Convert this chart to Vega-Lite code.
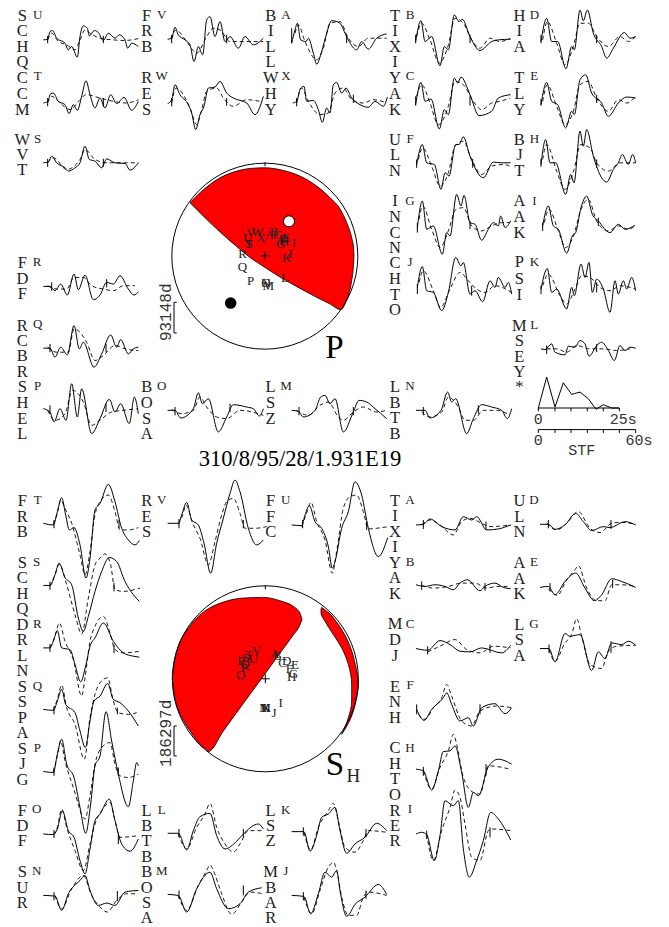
{"$schema":"https://vega.github.io/schema/vega-lite/v6.json","width":669,"height":927,"autosize":{"type":"fit","contains":"padding"},"padding":0,"background":"white","config":{"view":{"stroke":null}},
"datasets":{
"sol":[
{"s":"pU","x":130,"y":120},{"s":"pU","x":143,"y":118},{"s":"pU","x":150,"y":95},{"s":"pU","x":158,"y":92},{"s":"pU","x":170,"y":115},{"s":"pU","x":195,"y":130},{"s":"pU","x":205,"y":150},{"s":"pU","x":215,"y":140},{"s":"pU","x":232,"y":172},{"s":"pU","x":240,"y":110},{"s":"pU","x":250,"y":78},{"s":"pU","x":262,"y":85},{"s":"pU","x":268,"y":108},{"s":"pU","x":283,"y":92},{"s":"pU","x":295,"y":98},{"s":"pU","x":310,"y":122},{"s":"pU","x":325,"y":100},{"s":"pU","x":345,"y":115},{"s":"pU","x":358,"y":105},{"s":"pU","x":375,"y":120},{"s":"pU","x":383,"y":145},{"s":"pU","x":395,"y":130},{"s":"pU","x":415,"y":140},
{"s":"pV","x":503,"y":118},{"s":"pV","x":515,"y":115},{"s":"pV","x":525,"y":82},{"s":"pV","x":535,"y":105},{"s":"pV","x":555,"y":120},{"s":"pV","x":570,"y":135},{"s":"pV","x":582,"y":185},{"s":"pV","x":595,"y":140},{"s":"pV","x":608,"y":165},{"s":"pV","x":620,"y":60},{"s":"pV","x":630,"y":50},{"s":"pV","x":645,"y":110},{"s":"pV","x":660,"y":65},{"s":"pV","x":675,"y":125},{"s":"pV","x":690,"y":110},{"s":"pV","x":715,"y":145},{"s":"pV","x":735,"y":110},{"s":"pV","x":760,"y":135},{"s":"pV","x":790,"y":115},
{"s":"pT","x":130,"y":310},{"s":"pT","x":143,"y":305},{"s":"pT","x":152,"y":282},{"s":"pT","x":160,"y":280},{"s":"pT","x":175,"y":305},{"s":"pT","x":195,"y":315},{"s":"pT","x":207,"y":342},{"s":"pT","x":220,"y":315},{"s":"pT","x":232,"y":332},{"s":"pT","x":245,"y":290},{"s":"pT","x":258,"y":243},{"s":"pT","x":270,"y":285},{"s":"pT","x":285,"y":325},{"s":"pT","x":300,"y":295},{"s":"pT","x":315,"y":325},{"s":"pT","x":332,"y":285},{"s":"pT","x":350,"y":312},{"s":"pT","x":372,"y":293},{"s":"pT","x":395,"y":332},{"s":"pT","x":415,"y":305},
{"s":"pW","x":503,"y":312},{"s":"pW","x":515,"y":300},{"s":"pW","x":525,"y":255},{"s":"pW","x":540,"y":285},{"s":"pW","x":565,"y":315},{"s":"pW","x":575,"y":340},{"s":"pW","x":587,"y":390},{"s":"pW","x":600,"y":345},{"s":"pW","x":612,"y":320},{"s":"pW","x":625,"y":265},{"s":"pW","x":645,"y":262},{"s":"pW","x":660,"y":245},{"s":"pW","x":680,"y":280},{"s":"pW","x":700,"y":295},{"s":"pW","x":740,"y":310},{"s":"pW","x":765,"y":345},{"s":"pW","x":790,"y":290},
{"s":"pS","x":130,"y":490},{"s":"pS","x":145,"y":487},{"s":"pS","x":155,"y":470},{"s":"pS","x":170,"y":490},{"s":"pS","x":195,"y":505},{"s":"pS","x":205,"y":515},{"s":"pS","x":225,"y":505},{"s":"pS","x":240,"y":490},{"s":"pS","x":255,"y":440},{"s":"pS","x":268,"y":480},{"s":"pS","x":285,"y":485},{"s":"pS","x":305,"y":505},{"s":"pS","x":320,"y":478},{"s":"pS","x":345,"y":490},{"s":"pS","x":375,"y":492},{"s":"pS","x":390,"y":512},{"s":"pS","x":415,"y":490},
{"s":"pA","x":875,"y":130},{"s":"pA","x":885,"y":90},{"s":"pA","x":892,"y":70},{"s":"pA","x":902,"y":120},{"s":"pA","x":918,"y":125},{"s":"pA","x":925,"y":115},{"s":"pA","x":940,"y":160},{"s":"pA","x":950,"y":193},{"s":"pA","x":965,"y":155},{"s":"pA","x":980,"y":100},{"s":"pA","x":995,"y":62},{"s":"pA","x":1020,"y":70},{"s":"pA","x":1035,"y":100},{"s":"pA","x":1045,"y":120},{"s":"pA","x":1070,"y":150},{"s":"pA","x":1085,"y":125},{"s":"pA","x":1105,"y":148},{"s":"pA","x":1130,"y":115},{"s":"pA","x":1160,"y":102},
{"s":"pX","x":878,"y":310},{"s":"pX","x":890,"y":305},{"s":"pX","x":902,"y":265},{"s":"pX","x":912,"y":260},{"s":"pX","x":920,"y":305},{"s":"pX","x":940,"y":302},{"s":"pX","x":955,"y":330},{"s":"pX","x":967,"y":368},{"s":"pX","x":980,"y":325},{"s":"pX","x":990,"y":340},{"s":"pX","x":1000,"y":255},{"s":"pX","x":1010,"y":248},{"s":"pX","x":1025,"y":280},{"s":"pX","x":1038,"y":265},{"s":"pX","x":1055,"y":295},{"s":"pX","x":1080,"y":315},{"s":"pX","x":1105,"y":323},{"s":"pX","x":1125,"y":305},{"s":"pX","x":1150,"y":320},{"s":"pX","x":1162,"y":292},
{"s":"pB","x":1247,"y":125},{"s":"pB","x":1263,"y":62},{"s":"pB","x":1275,"y":125},{"s":"pB","x":1295,"y":110},{"s":"pB","x":1320,"y":198},{"s":"pB","x":1333,"y":140},{"s":"pB","x":1345,"y":150},{"s":"pB","x":1363,"y":45},{"s":"pB","x":1377,"y":65},{"s":"pB","x":1387,"y":58},{"s":"pB","x":1410,"y":110},{"s":"pB","x":1440,"y":152},{"s":"pB","x":1475,"y":125},{"s":"pB","x":1495,"y":120},{"s":"pB","x":1532,"y":118},
{"s":"pD","x":1623,"y":125},{"s":"pD","x":1640,"y":55},{"s":"pD","x":1655,"y":125},{"s":"pD","x":1673,"y":125},{"s":"pD","x":1698,"y":207},{"s":"pD","x":1715,"y":140},{"s":"pD","x":1723,"y":150},{"s":"pD","x":1740,"y":30},{"s":"pD","x":1750,"y":62},{"s":"pD","x":1762,"y":30},{"s":"pD","x":1780,"y":100},{"s":"pD","x":1805,"y":140},{"s":"pD","x":1820,"y":175},{"s":"pD","x":1840,"y":145},{"s":"pD","x":1873,"y":98},{"s":"pD","x":1890,"y":115},{"s":"pD","x":1907,"y":110},
{"s":"pC","x":1247,"y":315},{"s":"pC","x":1263,"y":248},{"s":"pC","x":1275,"y":305},{"s":"pC","x":1293,"y":298},{"s":"pC","x":1318,"y":388},{"s":"pC","x":1333,"y":330},{"s":"pC","x":1345,"y":345},{"s":"pC","x":1363,"y":235},{"s":"pC","x":1373,"y":250},{"s":"pC","x":1383,"y":232},{"s":"pC","x":1410,"y":285},{"s":"pC","x":1437,"y":348},{"s":"pC","x":1475,"y":335},{"s":"pC","x":1495,"y":295},{"s":"pC","x":1532,"y":285},
{"s":"pE","x":1623,"y":315},{"s":"pE","x":1640,"y":248},{"s":"pE","x":1655,"y":305},{"s":"pE","x":1673,"y":315},{"s":"pE","x":1697,"y":385},{"s":"pE","x":1715,"y":335},{"s":"pE","x":1723,"y":345},{"s":"pE","x":1740,"y":240},{"s":"pE","x":1757,"y":225},{"s":"pE","x":1775,"y":280},{"s":"pE","x":1805,"y":310},{"s":"pE","x":1825,"y":350},{"s":"pE","x":1855,"y":310},{"s":"pE","x":1880,"y":292},{"s":"pE","x":1907,"y":295},
{"s":"pF","x":1250,"y":495},{"s":"pF","x":1267,"y":435},{"s":"pF","x":1280,"y":490},{"s":"pF","x":1303,"y":495},{"s":"pF","x":1323,"y":570},{"s":"pF","x":1335,"y":520},{"s":"pF","x":1347,"y":530},{"s":"pF","x":1367,"y":435},{"s":"pF","x":1377,"y":435},{"s":"pF","x":1390,"y":412},{"s":"pF","x":1410,"y":470},{"s":"pF","x":1450,"y":535},{"s":"pF","x":1480,"y":488},{"s":"pF","x":1505,"y":490},{"s":"pF","x":1532,"y":490},
{"s":"pH","x":1623,"y":495},{"s":"pH","x":1637,"y":420},{"s":"pH","x":1650,"y":490},{"s":"pH","x":1667,"y":490},{"s":"pH","x":1697,"y":585},{"s":"pH","x":1712,"y":525},{"s":"pH","x":1722,"y":550},{"s":"pH","x":1740,"y":395},{"s":"pH","x":1750,"y":440},{"s":"pH","x":1760,"y":390},{"s":"pH","x":1780,"y":470},{"s":"pH","x":1805,"y":535},{"s":"pH","x":1820,"y":548},{"s":"pH","x":1840,"y":510},{"s":"pH","x":1855,"y":490},{"s":"pH","x":1867,"y":465},{"s":"pH","x":1885,"y":495},{"s":"pH","x":1898,"y":465},{"s":"pH","x":1907,"y":490},
{"s":"pG","x":1252,"y":685},{"s":"pG","x":1267,"y":605},{"s":"pG","x":1280,"y":690},{"s":"pG","x":1300,"y":680},{"s":"pG","x":1327,"y":765},{"s":"pG","x":1340,"y":700},{"s":"pG","x":1350,"y":710},{"s":"pG","x":1370,"y":585},{"s":"pG","x":1383,"y":620},{"s":"pG","x":1392,"y":588},{"s":"pG","x":1410,"y":670},{"s":"pG","x":1425,"y":675},{"s":"pG","x":1445,"y":723},{"s":"pG","x":1465,"y":690},{"s":"pG","x":1480,"y":670},{"s":"pG","x":1495,"y":680},{"s":"pG","x":1502,"y":650},{"s":"pG","x":1515,"y":685},{"s":"pG","x":1532,"y":665},
{"s":"pI","x":1628,"y":680},{"s":"pI","x":1645,"y":620},{"s":"pI","x":1660,"y":680},{"s":"pI","x":1675,"y":690},{"s":"pI","x":1700,"y":762},{"s":"pI","x":1717,"y":710},{"s":"pI","x":1727,"y":700},{"s":"pI","x":1743,"y":625},{"s":"pI","x":1760,"y":590},{"s":"pI","x":1777,"y":645},{"s":"pI","x":1795,"y":665},{"s":"pI","x":1830,"y":700},{"s":"pI","x":1855,"y":675},{"s":"pI","x":1875,"y":690},{"s":"pI","x":1905,"y":678},
{"s":"pJ","x":1252,"y":865},{"s":"pJ","x":1267,"y":802},{"s":"pJ","x":1280,"y":875},{"s":"pJ","x":1300,"y":880},{"s":"pJ","x":1325,"y":935},{"s":"pJ","x":1345,"y":880},{"s":"pJ","x":1367,"y":775},{"s":"pJ","x":1383,"y":800},{"s":"pJ","x":1390,"y":790},{"s":"pJ","x":1410,"y":885},{"s":"pJ","x":1425,"y":875},{"s":"pJ","x":1448,"y":908},{"s":"pJ","x":1470,"y":845},{"s":"pJ","x":1485,"y":865},{"s":"pJ","x":1495,"y":835},{"s":"pJ","x":1515,"y":865},{"s":"pJ","x":1525,"y":850},{"s":"pJ","x":1535,"y":885},
{"s":"pK","x":1623,"y":870},{"s":"pK","x":1642,"y":808},{"s":"pK","x":1655,"y":880},{"s":"pK","x":1670,"y":870},{"s":"pK","x":1700,"y":930},{"s":"pK","x":1715,"y":865},{"s":"pK","x":1723,"y":890},{"s":"pK","x":1743,"y":795},{"s":"pK","x":1755,"y":835},{"s":"pK","x":1767,"y":790},{"s":"pK","x":1777,"y":880},{"s":"pK","x":1790,"y":840},{"s":"pK","x":1810,"y":870},{"s":"pK","x":1830,"y":940},{"s":"pK","x":1845,"y":845},{"s":"pK","x":1855,"y":885},{"s":"pK","x":1870,"y":845},{"s":"pK","x":1880,"y":870},{"s":"pK","x":1895,"y":835},{"s":"pK","x":1907,"y":875},
{"s":"pL","x":1623,"y":1050},{"s":"pL","x":1635,"y":1052},{"s":"pL","x":1655,"y":1035},{"s":"pL","x":1665,"y":1060},{"s":"pL","x":1695,"y":1068},{"s":"pL","x":1705,"y":1042},{"s":"pL","x":1725,"y":1045},{"s":"pL","x":1740,"y":1025},{"s":"pL","x":1755,"y":1035},{"s":"pL","x":1767,"y":1072},{"s":"pL","x":1790,"y":1040},{"s":"pL","x":1805,"y":1030},{"s":"pL","x":1825,"y":1055},{"s":"pL","x":1843,"y":1085},{"s":"pL","x":1860,"y":1040},{"s":"pL","x":1875,"y":1055},{"s":"pL","x":1890,"y":1045},{"s":"pL","x":1907,"y":1048},
{"s":"stf","x":1615,"y":1228},{"s":"stf","x":1640,"y":1135},{"s":"stf","x":1665,"y":1225},{"s":"stf","x":1690,"y":1152},{"s":"stf","x":1715,"y":1187},{"s":"stf","x":1740,"y":1180},{"s":"stf","x":1765,"y":1200},{"s":"stf","x":1788,"y":1232},{"s":"stf","x":1810,"y":1218},{"s":"stf","x":1835,"y":1228},{"s":"stf","x":1857,"y":1228},
{"s":"pR","x":130,"y":862},{"s":"pR","x":150,"y":862},{"s":"pR","x":165,"y":875},{"s":"pR","x":182,"y":855},{"s":"pR","x":202,"y":888},{"s":"pR","x":222,"y":825},{"s":"pR","x":235,"y":872},{"s":"pR","x":255,"y":828},{"s":"pR","x":280,"y":902},{"s":"pR","x":300,"y":888},{"s":"pR","x":320,"y":850},{"s":"pR","x":340,"y":855},{"s":"pR","x":360,"y":830},{"s":"pR","x":385,"y":870},{"s":"pR","x":402,"y":888},{"s":"pR","x":415,"y":878},
{"s":"pQ","x":130,"y":1048},{"s":"pQ","x":150,"y":1048},{"s":"pQ","x":165,"y":1075},{"s":"pQ","x":182,"y":1045},{"s":"pQ","x":202,"y":1068},{"s":"pQ","x":222,"y":980},{"s":"pQ","x":238,"y":1050},{"s":"pQ","x":250,"y":1030},{"s":"pQ","x":282,"y":1105},{"s":"pQ","x":305,"y":1065},{"s":"pQ","x":332,"y":1008},{"s":"pQ","x":350,"y":1045},{"s":"pQ","x":362,"y":1022},{"s":"pQ","x":385,"y":1065},{"s":"pQ","x":400,"y":1050},{"s":"pQ","x":415,"y":1045},
{"s":"pP","x":130,"y":1230},{"s":"pP","x":150,"y":1240},{"s":"pP","x":162,"y":1270},{"s":"pP","x":180,"y":1230},{"s":"pP","x":198,"y":1265},{"s":"pP","x":215,"y":1155},{"s":"pP","x":232,"y":1255},{"s":"pP","x":245,"y":1170},{"s":"pP","x":275,"y":1305},{"s":"pP","x":300,"y":1260},{"s":"pP","x":328,"y":1202},{"s":"pP","x":345,"y":1240},{"s":"pP","x":362,"y":1215},{"s":"pP","x":388,"y":1275},{"s":"pP","x":403,"y":1195},{"s":"pP","x":415,"y":1245},
{"s":"pO","x":503,"y":1235},{"s":"pO","x":525,"y":1235},{"s":"pO","x":542,"y":1258},{"s":"pO","x":580,"y":1230},{"s":"pO","x":595,"y":1182},{"s":"pO","x":607,"y":1215},{"s":"pO","x":625,"y":1200},{"s":"pO","x":655,"y":1300},{"s":"pO","x":680,"y":1255},{"s":"pO","x":700,"y":1218},{"s":"pO","x":740,"y":1225},{"s":"pO","x":760,"y":1230},{"s":"pO","x":778,"y":1252},{"s":"pO","x":790,"y":1230},
{"s":"pM","x":875,"y":1235},{"s":"pM","x":895,"y":1238},{"s":"pM","x":910,"y":1255},{"s":"pM","x":945,"y":1235},{"s":"pM","x":962,"y":1195},{"s":"pM","x":975,"y":1190},{"s":"pM","x":990,"y":1215},{"s":"pM","x":1005,"y":1200},{"s":"pM","x":1030,"y":1300},{"s":"pM","x":1060,"y":1240},{"s":"pM","x":1077,"y":1205},{"s":"pM","x":1100,"y":1210},{"s":"pM","x":1125,"y":1230},{"s":"pM","x":1160,"y":1260},
{"s":"pN","x":1248,"y":1235},{"s":"pN","x":1275,"y":1235},{"s":"pN","x":1290,"y":1258},{"s":"pN","x":1323,"y":1235},{"s":"pN","x":1343,"y":1180},{"s":"pN","x":1355,"y":1210},{"s":"pN","x":1367,"y":1200},{"s":"pN","x":1400,"y":1305},{"s":"pN","x":1420,"y":1260},{"s":"pN","x":1445,"y":1218},{"s":"pN","x":1475,"y":1225},{"s":"pN","x":1505,"y":1235},{"s":"pN","x":1522,"y":1260},{"s":"pN","x":1535,"y":1230},
{"s":"hT","x":130,"y":1575},{"s":"hT","x":160,"y":1580},{"s":"hT","x":172,"y":1540},{"s":"hT","x":185,"y":1498},{"s":"hT","x":197,"y":1550},{"s":"hT","x":208,"y":1595},{"s":"hT","x":222,"y":1588},{"s":"hT","x":240,"y":1640},{"s":"hT","x":258,"y":1740},{"s":"hT","x":270,"y":1680},{"s":"hT","x":285,"y":1535},{"s":"hT","x":300,"y":1515},{"s":"hT","x":325,"y":1458},{"s":"hT","x":345,"y":1510},{"s":"hT","x":365,"y":1590},{"s":"hT","x":385,"y":1625},{"s":"hT","x":405,"y":1640},{"s":"hT","x":418,"y":1627},
{"s":"hV","x":503,"y":1575},{"s":"hV","x":535,"y":1575},{"s":"hV","x":545,"y":1550},{"s":"hV","x":560,"y":1512},{"s":"hV","x":575,"y":1565},{"s":"hV","x":595,"y":1580},{"s":"hV","x":612,"y":1635},{"s":"hV","x":632,"y":1725},{"s":"hV","x":650,"y":1635},{"s":"hV","x":670,"y":1560},{"s":"hV","x":690,"y":1485},{"s":"hV","x":705,"y":1445},{"s":"hV","x":720,"y":1480},{"s":"hV","x":745,"y":1590},{"s":"hV","x":770,"y":1640},{"s":"hV","x":790,"y":1625},
{"s":"hU","x":875,"y":1580},{"s":"hU","x":905,"y":1582},{"s":"hU","x":915,"y":1550},{"s":"hU","x":928,"y":1522},{"s":"hU","x":945,"y":1570},{"s":"hU","x":965,"y":1590},{"s":"hU","x":985,"y":1645},{"s":"hU","x":997,"y":1710},{"s":"hU","x":1005,"y":1690},{"s":"hU","x":1025,"y":1590},{"s":"hU","x":1045,"y":1540},{"s":"hU","x":1065,"y":1450},{"s":"hU","x":1085,"y":1490},{"s":"hU","x":1105,"y":1590},{"s":"hU","x":1135,"y":1675},{"s":"hU","x":1163,"y":1618},
{"s":"hA","x":1248,"y":1580},{"s":"hA","x":1270,"y":1578},{"s":"hA","x":1290,"y":1562},{"s":"hA","x":1325,"y":1585},{"s":"hA","x":1365,"y":1595},{"s":"hA","x":1390,"y":1555},{"s":"hA","x":1415,"y":1565},{"s":"hA","x":1430,"y":1555},{"s":"hA","x":1460,"y":1595},{"s":"hA","x":1495,"y":1592},{"s":"hA","x":1532,"y":1580},
{"s":"hD","x":1620,"y":1578},{"s":"hD","x":1645,"y":1578},{"s":"hD","x":1665,"y":1593},{"s":"hD","x":1695,"y":1580},{"s":"hD","x":1727,"y":1545},{"s":"hD","x":1750,"y":1570},{"s":"hD","x":1775,"y":1597},{"s":"hD","x":1810,"y":1585},{"s":"hD","x":1830,"y":1588},{"s":"hD","x":1875,"y":1570},{"s":"hD","x":1907,"y":1580},
{"s":"hS","x":130,"y":1762},{"s":"hS","x":150,"y":1762},{"s":"hS","x":165,"y":1730},{"s":"hS","x":177,"y":1695},{"s":"hS","x":195,"y":1738},{"s":"hS","x":215,"y":1760},{"s":"hS","x":235,"y":1860},{"s":"hS","x":250,"y":1900},{"s":"hS","x":265,"y":1855},{"s":"hS","x":285,"y":1780},{"s":"hS","x":305,"y":1720},{"s":"hS","x":328,"y":1678},{"s":"hS","x":350,"y":1690},{"s":"hS","x":375,"y":1750},{"s":"hS","x":400,"y":1790},{"s":"hS","x":418,"y":1810},
{"s":"hR","x":130,"y":1950},{"s":"hR","x":150,"y":1950},{"s":"hR","x":160,"y":1930},{"s":"hR","x":172,"y":1898},{"s":"hR","x":185,"y":1950},{"s":"hR","x":210,"y":1955},{"s":"hR","x":225,"y":2000},{"s":"hR","x":242,"y":2052},{"s":"hR","x":258,"y":2000},{"s":"hR","x":270,"y":1945},{"s":"hR","x":285,"y":1920},{"s":"hR","x":310,"y":1875},{"s":"hR","x":340,"y":1930},{"s":"hR","x":370,"y":1965},{"s":"hR","x":400,"y":1975},{"s":"hR","x":418,"y":1978},
{"s":"hQ","x":130,"y":2135},{"s":"hQ","x":160,"y":2138},{"s":"hQ","x":172,"y":2110},{"s":"hQ","x":185,"y":2075},{"s":"hQ","x":197,"y":2120},{"s":"hQ","x":225,"y":2145},{"s":"hQ","x":240,"y":2200},{"s":"hQ","x":256,"y":2250},{"s":"hQ","x":270,"y":2170},{"s":"hQ","x":282,"y":2110},{"s":"hQ","x":300,"y":2095},{"s":"hQ","x":323,"y":2057},{"s":"hQ","x":340,"y":2105},{"s":"hQ","x":360,"y":2115},{"s":"hQ","x":385,"y":2140},{"s":"hQ","x":415,"y":2185},
{"s":"hP","x":130,"y":2322},{"s":"hP","x":160,"y":2325},{"s":"hP","x":172,"y":2270},{"s":"hP","x":185,"y":2225},{"s":"hP","x":200,"y":2300},{"s":"hP","x":222,"y":2340},{"s":"hP","x":240,"y":2430},{"s":"hP","x":257,"y":2508},{"s":"hP","x":272,"y":2420},{"s":"hP","x":285,"y":2305},{"s":"hP","x":300,"y":2275},{"s":"hP","x":318,"y":2142},{"s":"hP","x":335,"y":2230},{"s":"hP","x":355,"y":2330},{"s":"hP","x":385,"y":2428},{"s":"hP","x":400,"y":2350},{"s":"hP","x":410,"y":2295},{"s":"hP","x":415,"y":2305},
{"s":"hO","x":130,"y":2510},{"s":"hO","x":160,"y":2512},{"s":"hO","x":172,"y":2495},{"s":"hO","x":187,"y":2440},{"s":"hO","x":205,"y":2500},{"s":"hO","x":222,"y":2520},{"s":"hO","x":240,"y":2590},{"s":"hO","x":255,"y":2630},{"s":"hO","x":270,"y":2555},{"s":"hO","x":285,"y":2470},{"s":"hO","x":300,"y":2450},{"s":"hO","x":328,"y":2405},{"s":"hO","x":345,"y":2470},{"s":"hO","x":365,"y":2540},{"s":"hO","x":390,"y":2562},{"s":"hO","x":415,"y":2525},
{"s":"hN","x":130,"y":2695},{"s":"hN","x":165,"y":2697},{"s":"hN","x":185,"y":2740},{"s":"hN","x":205,"y":2690},{"s":"hN","x":240,"y":2650},{"s":"hN","x":255,"y":2635},{"s":"hN","x":270,"y":2680},{"s":"hN","x":295,"y":2725},{"s":"hN","x":320,"y":2718},{"s":"hN","x":345,"y":2725},{"s":"hN","x":375,"y":2685},{"s":"hN","x":415,"y":2680},
{"s":"hL","x":503,"y":2508},{"s":"hL","x":535,"y":2508},{"s":"hL","x":560,"y":2558},{"s":"hL","x":580,"y":2500},{"s":"hL","x":600,"y":2458},{"s":"hL","x":630,"y":2448},{"s":"hL","x":650,"y":2515},{"s":"hL","x":675,"y":2555},{"s":"hL","x":710,"y":2532},{"s":"hL","x":735,"y":2505},{"s":"hL","x":775,"y":2480},{"s":"hL","x":790,"y":2495},
{"s":"hM","x":503,"y":2692},{"s":"hM","x":535,"y":2695},{"s":"hM","x":560,"y":2745},{"s":"hM","x":590,"y":2675},{"s":"hM","x":630,"y":2625},{"s":"hM","x":650,"y":2675},{"s":"hM","x":685,"y":2735},{"s":"hM","x":720,"y":2720},{"s":"hM","x":745,"y":2685},{"s":"hM","x":785,"y":2672},
{"s":"hK","x":875,"y":2503},{"s":"hK","x":912,"y":2503},{"s":"hK","x":930,"y":2562},{"s":"hK","x":950,"y":2515},{"s":"hK","x":965,"y":2460},{"s":"hK","x":985,"y":2450},{"s":"hK","x":1005,"y":2430},{"s":"hK","x":1020,"y":2500},{"s":"hK","x":1040,"y":2568},{"s":"hK","x":1065,"y":2540},{"s":"hK","x":1095,"y":2520},{"s":"hK","x":1130,"y":2478},{"s":"hK","x":1160,"y":2500},
{"s":"hJ","x":875,"y":2695},{"s":"hJ","x":912,"y":2698},{"s":"hJ","x":932,"y":2750},{"s":"hJ","x":955,"y":2690},{"s":"hJ","x":975,"y":2625},{"s":"hJ","x":995,"y":2640},{"s":"hJ","x":1010,"y":2620},{"s":"hJ","x":1020,"y":2680},{"s":"hJ","x":1040,"y":2758},{"s":"hJ","x":1065,"y":2722},{"s":"hJ","x":1095,"y":2700},{"s":"hJ","x":1135,"y":2662},{"s":"hJ","x":1160,"y":2692},
{"s":"hB","x":1248,"y":1760},{"s":"hB","x":1275,"y":1765},{"s":"hB","x":1305,"y":1760},{"s":"hB","x":1335,"y":1765},{"s":"hB","x":1360,"y":1775},{"s":"hB","x":1380,"y":1755},{"s":"hB","x":1402,"y":1745},{"s":"hB","x":1440,"y":1778},{"s":"hB","x":1455,"y":1765},{"s":"hB","x":1485,"y":1755},{"s":"hB","x":1510,"y":1768},{"s":"hB","x":1532,"y":1772},
{"s":"hE","x":1620,"y":1768},{"s":"hE","x":1645,"y":1765},{"s":"hE","x":1665,"y":1790},{"s":"hE","x":1695,"y":1750},{"s":"hE","x":1727,"y":1725},{"s":"hE","x":1755,"y":1770},{"s":"hE","x":1783,"y":1808},{"s":"hE","x":1805,"y":1790},{"s":"hE","x":1835,"y":1742},{"s":"hE","x":1865,"y":1750},{"s":"hE","x":1907,"y":1768},
{"s":"hC","x":1248,"y":1952},{"s":"hC","x":1283,"y":1957},{"s":"hC","x":1320,"y":1928},{"s":"hC","x":1350,"y":1940},{"s":"hC","x":1380,"y":1960},{"s":"hC","x":1410,"y":1962},{"s":"hC","x":1445,"y":1950},{"s":"hC","x":1505,"y":1965},{"s":"hC","x":1532,"y":1942},
{"s":"hG","x":1620,"y":1952},{"s":"hG","x":1647,"y":1952},{"s":"hG","x":1665,"y":1992},{"s":"hG","x":1695,"y":1907},{"s":"hG","x":1710,"y":1915},{"s":"hG","x":1740,"y":1910},{"s":"hG","x":1775,"y":2018},{"s":"hG","x":1795,"y":1962},{"s":"hG","x":1815,"y":1982},{"s":"hG","x":1835,"y":1935},{"s":"hG","x":1865,"y":1940},{"s":"hG","x":1885,"y":1930},{"s":"hG","x":1907,"y":1942},
{"s":"hF","x":1250,"y":2135},{"s":"hF","x":1272,"y":2168},{"s":"hF","x":1295,"y":2135},{"s":"hF","x":1330,"y":2100},{"s":"hF","x":1340,"y":2085},{"s":"hF","x":1355,"y":2120},{"s":"hF","x":1380,"y":2170},{"s":"hF","x":1405,"y":2160},{"s":"hF","x":1420,"y":2185},{"s":"hF","x":1445,"y":2130},{"s":"hF","x":1485,"y":2118},{"s":"hF","x":1515,"y":2148},{"s":"hF","x":1535,"y":2130},
{"s":"hH","x":1248,"y":2315},{"s":"hH","x":1270,"y":2320},{"s":"hH","x":1295,"y":2378},{"s":"hH","x":1315,"y":2320},{"s":"hH","x":1330,"y":2262},{"s":"hH","x":1350,"y":2260},{"s":"hH","x":1365,"y":2245},{"s":"hH","x":1385,"y":2325},{"s":"hH","x":1405,"y":2430},{"s":"hH","x":1420,"y":2385},{"s":"hH","x":1435,"y":2395},{"s":"hH","x":1465,"y":2308},{"s":"hH","x":1495,"y":2285},{"s":"hH","x":1535,"y":2300},
{"s":"hI","x":1248,"y":2510},{"s":"hI","x":1265,"y":2505},{"s":"hI","x":1280,"y":2512},{"s":"hI","x":1303,"y":2590},{"s":"hI","x":1320,"y":2515},{"s":"hI","x":1335,"y":2410},{"s":"hI","x":1360,"y":2425},{"s":"hI","x":1375,"y":2410},{"s":"hI","x":1390,"y":2555},{"s":"hI","x":1408,"y":2640},{"s":"hI","x":1430,"y":2590},{"s":"hI","x":1450,"y":2530},{"s":"hI","x":1472,"y":2445},{"s":"hI","x":1495,"y":2465},{"s":"hI","x":1532,"y":2528}
],
"das":[
{"s":"pU","x":143,"y":120},{"s":"pU","x":155,"y":100},{"s":"pU","x":175,"y":125},{"s":"pU","x":200,"y":135},{"s":"pU","x":225,"y":150},{"s":"pU","x":240,"y":120},{"s":"pU","x":255,"y":90},{"s":"pU","x":270,"y":100},{"s":"pU","x":300,"y":115},{"s":"pU","x":340,"y":120},{"s":"pU","x":375,"y":122},{"s":"pU","x":395,"y":120},{"s":"pU","x":420,"y":115},
{"s":"pV","x":515,"y":118},{"s":"pV","x":528,"y":90},{"s":"pV","x":560,"y":125},{"s":"pV","x":590,"y":160},{"s":"pV","x":620,"y":110},{"s":"pV","x":640,"y":85},{"s":"pV","x":660,"y":90},{"s":"pV","x":690,"y":125},{"s":"pV","x":730,"y":125},{"s":"pV","x":790,"y":125},
{"s":"pT","x":143,"y":310},{"s":"pT","x":155,"y":290},{"s":"pT","x":180,"y":310},{"s":"pT","x":210,"y":330},{"s":"pT","x":240,"y":300},{"s":"pT","x":258,"y":285},{"s":"pT","x":300,"y":295},{"s":"pT","x":340,"y":305},{"s":"pT","x":380,"y":310},{"s":"pT","x":415,"y":300},
{"s":"pW","x":515,"y":310},{"s":"pW","x":528,"y":265},{"s":"pW","x":570,"y":325},{"s":"pW","x":590,"y":375},{"s":"pW","x":605,"y":330},{"s":"pW","x":620,"y":275},{"s":"pW","x":650,"y":265},{"s":"pW","x":670,"y":295},{"s":"pW","x":700,"y":320},{"s":"pW","x":740,"y":300},{"s":"pW","x":780,"y":305},
{"s":"pS","x":143,"y":490},{"s":"pS","x":160,"y":475},{"s":"pS","x":200,"y":510},{"s":"pS","x":240,"y":480},{"s":"pS","x":255,"y":450},{"s":"pS","x":285,"y":480},{"s":"pS","x":320,"y":490},{"s":"pS","x":370,"y":490},{"s":"pS","x":415,"y":490},
{"s":"pA","x":885,"y":100},{"s":"pA","x":895,"y":75},{"s":"pA","x":915,"y":125},{"s":"pA","x":950,"y":180},{"s":"pA","x":970,"y":145},{"s":"pA","x":990,"y":70},{"s":"pA","x":1020,"y":65},{"s":"pA","x":1045,"y":115},{"s":"pA","x":1075,"y":140},{"s":"pA","x":1105,"y":115},{"s":"pA","x":1160,"y":115},
{"s":"pX","x":890,"y":310},{"s":"pX","x":905,"y":265},{"s":"pX","x":925,"y":305},{"s":"pX","x":960,"y":345},{"s":"pX","x":985,"y":340},{"s":"pX","x":1005,"y":280},{"s":"pX","x":1030,"y":265},{"s":"pX","x":1055,"y":300},{"s":"pX","x":1090,"y":310},{"s":"pX","x":1120,"y":300},{"s":"pX","x":1160,"y":310},
{"s":"pB","x":1250,"y":110},{"s":"pB","x":1265,"y":70},{"s":"pB","x":1290,"y":120},{"s":"pB","x":1318,"y":190},{"s":"pB","x":1345,"y":135},{"s":"pB","x":1365,"y":55},{"s":"pB","x":1390,"y":70},{"s":"pB","x":1415,"y":120},{"s":"pB","x":1440,"y":145},{"s":"pB","x":1470,"y":115},{"s":"pB","x":1500,"y":125},{"s":"pB","x":1530,"y":115},
{"s":"pD","x":1628,"y":120},{"s":"pD","x":1642,"y":65},{"s":"pD","x":1670,"y":130},{"s":"pD","x":1695,"y":195},{"s":"pD","x":1720,"y":140},{"s":"pD","x":1740,"y":70},{"s":"pD","x":1765,"y":70},{"s":"pD","x":1790,"y":110},{"s":"pD","x":1825,"y":140},{"s":"pD","x":1860,"y":110},{"s":"pD","x":1885,"y":125},{"s":"pD","x":1907,"y":110},
{"s":"pC","x":1250,"y":290},{"s":"pC","x":1265,"y":255},{"s":"pC","x":1290,"y":310},{"s":"pC","x":1315,"y":375},{"s":"pC","x":1345,"y":320},{"s":"pC","x":1365,"y":245},{"s":"pC","x":1390,"y":255},{"s":"pC","x":1420,"y":305},{"s":"pC","x":1445,"y":330},{"s":"pC","x":1475,"y":310},{"s":"pC","x":1500,"y":305},{"s":"pC","x":1530,"y":295},
{"s":"pE","x":1628,"y":305},{"s":"pE","x":1642,"y":255},{"s":"pE","x":1670,"y":320},{"s":"pE","x":1695,"y":375},{"s":"pE","x":1720,"y":335},{"s":"pE","x":1740,"y":255},{"s":"pE","x":1765,"y":245},{"s":"pE","x":1790,"y":295},{"s":"pE","x":1825,"y":335},{"s":"pE","x":1855,"y":300},{"s":"pE","x":1880,"y":310},{"s":"pE","x":1907,"y":290},
{"s":"pF","x":1255,"y":480},{"s":"pF","x":1268,"y":445},{"s":"pF","x":1295,"y":500},{"s":"pF","x":1320,"y":560},{"s":"pF","x":1345,"y":520},{"s":"pF","x":1365,"y":440},{"s":"pF","x":1390,"y":425},{"s":"pF","x":1415,"y":480},{"s":"pF","x":1445,"y":525},{"s":"pF","x":1475,"y":500},{"s":"pF","x":1510,"y":495},{"s":"pF","x":1530,"y":500},
{"s":"pH","x":1628,"y":480},{"s":"pH","x":1640,"y":435},{"s":"pH","x":1670,"y":515},{"s":"pH","x":1695,"y":570},{"s":"pH","x":1722,"y":510},{"s":"pH","x":1742,"y":435},{"s":"pH","x":1770,"y":445},{"s":"pH","x":1790,"y":490},{"s":"pH","x":1825,"y":515},{"s":"pH","x":1860,"y":490},{"s":"pH","x":1907,"y":490},
{"s":"pG","x":1257,"y":660},{"s":"pG","x":1268,"y":620},{"s":"pG","x":1295,"y":690},{"s":"pG","x":1320,"y":745},{"s":"pG","x":1345,"y":695},{"s":"pG","x":1368,"y":630},{"s":"pG","x":1390,"y":625},{"s":"pG","x":1415,"y":680},{"s":"pG","x":1445,"y":695},{"s":"pG","x":1475,"y":680},{"s":"pG","x":1505,"y":670},{"s":"pG","x":1530,"y":670},
{"s":"pI","x":1633,"y":670},{"s":"pI","x":1647,"y":630},{"s":"pI","x":1675,"y":695},{"s":"pI","x":1697,"y":745},{"s":"pI","x":1722,"y":705},{"s":"pI","x":1743,"y":630},{"s":"pI","x":1765,"y":600},{"s":"pI","x":1790,"y":665},{"s":"pI","x":1825,"y":695},{"s":"pI","x":1855,"y":680},{"s":"pI","x":1885,"y":690},{"s":"pI","x":1905,"y":680},
{"s":"pJ","x":1257,"y":850},{"s":"pJ","x":1270,"y":815},{"s":"pJ","x":1300,"y":875},{"s":"pJ","x":1322,"y":925},{"s":"pJ","x":1350,"y":870},{"s":"pJ","x":1380,"y":820},{"s":"pJ","x":1405,"y":845},{"s":"pJ","x":1430,"y":870},{"s":"pJ","x":1455,"y":880},{"s":"pJ","x":1485,"y":860},{"s":"pJ","x":1535,"y":880},
{"s":"pK","x":1628,"y":860},{"s":"pK","x":1645,"y":825},{"s":"pK","x":1680,"y":890},{"s":"pK","x":1700,"y":915},{"s":"pK","x":1725,"y":870},{"s":"pK","x":1745,"y":830},{"s":"pK","x":1770,"y":835},{"s":"pK","x":1800,"y":865},{"s":"pK","x":1830,"y":875},{"s":"pK","x":1860,"y":860},{"s":"pK","x":1907,"y":870},
{"s":"pL","x":1640,"y":1050},{"s":"pL","x":1670,"y":1050},{"s":"pL","x":1700,"y":1060},{"s":"pL","x":1730,"y":1040},{"s":"pL","x":1770,"y":1050},{"s":"pL","x":1810,"y":1050},{"s":"pL","x":1850,"y":1055},{"s":"pL","x":1890,"y":1050},
{"s":"pR","x":143,"y":860},{"s":"pR","x":170,"y":870},{"s":"pR","x":200,"y":870},{"s":"pR","x":222,"y":835},{"s":"pR","x":250,"y":835},{"s":"pR","x":275,"y":860},{"s":"pR","x":310,"y":870},{"s":"pR","x":340,"y":875},{"s":"pR","x":370,"y":860},{"s":"pR","x":405,"y":860},
{"s":"pQ","x":143,"y":1045},{"s":"pQ","x":170,"y":1060},{"s":"pQ","x":205,"y":1060},{"s":"pQ","x":222,"y":990},{"s":"pQ","x":260,"y":1030},{"s":"pQ","x":285,"y":1085},{"s":"pQ","x":310,"y":1070},{"s":"pQ","x":345,"y":1040},{"s":"pQ","x":375,"y":1050},{"s":"pQ","x":415,"y":1055},
{"s":"pP","x":143,"y":1235},{"s":"pP","x":165,"y":1265},{"s":"pP","x":195,"y":1245},{"s":"pP","x":218,"y":1175},{"s":"pP","x":250,"y":1210},{"s":"pP","x":275,"y":1280},{"s":"pP","x":300,"y":1265},{"s":"pP","x":335,"y":1240},{"s":"pP","x":370,"y":1235},{"s":"pP","x":415,"y":1230},
{"s":"pO","x":515,"y":1232},{"s":"pO","x":545,"y":1245},{"s":"pO","x":580,"y":1235},{"s":"pO","x":600,"y":1195},{"s":"pO","x":620,"y":1225},{"s":"pO","x":650,"y":1255},{"s":"pO","x":680,"y":1260},{"s":"pO","x":720,"y":1235},{"s":"pO","x":790,"y":1250},
{"s":"pM","x":890,"y":1235},{"s":"pM","x":925,"y":1250},{"s":"pM","x":960,"y":1220},{"s":"pM","x":985,"y":1210},{"s":"pM","x":1015,"y":1255},{"s":"pM","x":1030,"y":1265},{"s":"pM","x":1060,"y":1240},{"s":"pM","x":1090,"y":1225},{"s":"pM","x":1130,"y":1240},{"s":"pM","x":1160,"y":1235},
{"s":"pN","x":1265,"y":1240},{"s":"pN","x":1290,"y":1255},{"s":"pN","x":1325,"y":1240},{"s":"pN","x":1345,"y":1195},{"s":"pN","x":1375,"y":1225},{"s":"pN","x":1395,"y":1265},{"s":"pN","x":1420,"y":1265},{"s":"pN","x":1450,"y":1235},{"s":"pN","x":1490,"y":1235},{"s":"pN","x":1530,"y":1250},
{"s":"hT","x":160,"y":1578},{"s":"hT","x":172,"y":1545},{"s":"hT","x":182,"y":1505},{"s":"hT","x":195,"y":1530},{"s":"hT","x":215,"y":1575},{"s":"hT","x":240,"y":1670},{"s":"hT","x":255,"y":1730},{"s":"hT","x":270,"y":1660},{"s":"hT","x":285,"y":1550},{"s":"hT","x":300,"y":1510},{"s":"hT","x":325,"y":1490},{"s":"hT","x":345,"y":1540},{"s":"hT","x":360,"y":1595},{"s":"hT","x":385,"y":1595},{"s":"hT","x":415,"y":1588},
{"s":"hV","x":535,"y":1578},{"s":"hV","x":548,"y":1550},{"s":"hV","x":558,"y":1520},{"s":"hV","x":578,"y":1575},{"s":"hV","x":600,"y":1620},{"s":"hV","x":625,"y":1700},{"s":"hV","x":645,"y":1630},{"s":"hV","x":665,"y":1550},{"s":"hV","x":680,"y":1510},{"s":"hV","x":700,"y":1500},{"s":"hV","x":720,"y":1545},{"s":"hV","x":735,"y":1590},{"s":"hV","x":765,"y":1590},{"s":"hV","x":800,"y":1585},
{"s":"hU","x":905,"y":1585},{"s":"hU","x":918,"y":1550},{"s":"hU","x":933,"y":1512},{"s":"hU","x":950,"y":1570},{"s":"hU","x":975,"y":1625},{"s":"hU","x":997,"y":1725},{"s":"hU","x":1010,"y":1660},{"s":"hU","x":1030,"y":1530},{"s":"hU","x":1050,"y":1495},{"s":"hU","x":1070,"y":1490},{"s":"hU","x":1090,"y":1540},{"s":"hU","x":1105,"y":1592},{"s":"hU","x":1130,"y":1590},{"s":"hU","x":1165,"y":1585},
{"s":"hA","x":1265,"y":1580},{"s":"hA","x":1290,"y":1565},{"s":"hA","x":1320,"y":1580},{"s":"hA","x":1360,"y":1610},{"s":"hA","x":1385,"y":1570},{"s":"hA","x":1410,"y":1560},{"s":"hA","x":1445,"y":1575},{"s":"hA","x":1470,"y":1585},{"s":"hA","x":1532,"y":1580},
{"s":"hD","x":1640,"y":1575},{"s":"hD","x":1670,"y":1595},{"s":"hD","x":1700,"y":1575},{"s":"hD","x":1735,"y":1540},{"s":"hD","x":1770,"y":1590},{"s":"hD","x":1800,"y":1603},{"s":"hD","x":1835,"y":1575},{"s":"hD","x":1860,"y":1572},{"s":"hD","x":1907,"y":1578},
{"s":"hS","x":150,"y":1765},{"s":"hS","x":165,"y":1730},{"s":"hS","x":178,"y":1698},{"s":"hS","x":200,"y":1760},{"s":"hS","x":225,"y":1850},{"s":"hS","x":245,"y":1908},{"s":"hS","x":265,"y":1800},{"s":"hS","x":285,"y":1700},{"s":"hS","x":300,"y":1680},{"s":"hS","x":315,"y":1667},{"s":"hS","x":332,"y":1700},{"s":"hS","x":345,"y":1775},{"s":"hS","x":370,"y":1780},{"s":"hS","x":420,"y":1770},
{"s":"hR","x":150,"y":1950},{"s":"hR","x":165,"y":1915},{"s":"hR","x":178,"y":1875},{"s":"hR","x":195,"y":1930},{"s":"hR","x":220,"y":1985},{"s":"hR","x":245,"y":2095},{"s":"hR","x":255,"y":2040},{"s":"hR","x":270,"y":1930},{"s":"hR","x":285,"y":1885},{"s":"hR","x":310,"y":1855},{"s":"hR","x":330,"y":1905},{"s":"hR","x":345,"y":1955},{"s":"hR","x":370,"y":1965},{"s":"hR","x":420,"y":1960},
{"s":"hQ","x":160,"y":2138},{"s":"hQ","x":172,"y":2105},{"s":"hQ","x":185,"y":2062},{"s":"hQ","x":200,"y":2130},{"s":"hQ","x":225,"y":2180},{"s":"hQ","x":253,"y":2285},{"s":"hQ","x":270,"y":2160},{"s":"hQ","x":285,"y":2090},{"s":"hQ","x":300,"y":2055},{"s":"hQ","x":323,"y":2040},{"s":"hQ","x":340,"y":2110},{"s":"hQ","x":355,"y":2145},{"s":"hQ","x":385,"y":2150},{"s":"hQ","x":410,"y":2145},
{"s":"hP","x":160,"y":2325},{"s":"hP","x":172,"y":2275},{"s":"hP","x":182,"y":2230},{"s":"hP","x":195,"y":2290},{"s":"hP","x":220,"y":2370},{"s":"hP","x":255,"y":2465},{"s":"hP","x":270,"y":2395},{"s":"hP","x":285,"y":2300},{"s":"hP","x":305,"y":2250},{"s":"hP","x":330,"y":2235},{"s":"hP","x":345,"y":2300},{"s":"hP","x":360,"y":2335},{"s":"hP","x":385,"y":2340},{"s":"hP","x":415,"y":2330},
{"s":"hO","x":160,"y":2512},{"s":"hO","x":172,"y":2490},{"s":"hO","x":185,"y":2435},{"s":"hO","x":200,"y":2490},{"s":"hO","x":225,"y":2560},{"s":"hO","x":250,"y":2620},{"s":"hO","x":270,"y":2540},{"s":"hO","x":285,"y":2480},{"s":"hO","x":305,"y":2440},{"s":"hO","x":330,"y":2415},{"s":"hO","x":345,"y":2470},{"s":"hO","x":360,"y":2520},{"s":"hO","x":415,"y":2515},
{"s":"hN","x":165,"y":2695},{"s":"hN","x":185,"y":2735},{"s":"hN","x":215,"y":2675},{"s":"hN","x":250,"y":2635},{"s":"hN","x":275,"y":2695},{"s":"hN","x":300,"y":2730},{"s":"hN","x":322,"y":2745},{"s":"hN","x":350,"y":2710},{"s":"hN","x":380,"y":2690},{"s":"hN","x":415,"y":2690},
{"s":"hL","x":535,"y":2510},{"s":"hL","x":560,"y":2555},{"s":"hL","x":590,"y":2490},{"s":"hL","x":615,"y":2450},{"s":"hL","x":630,"y":2418},{"s":"hL","x":650,"y":2490},{"s":"hL","x":675,"y":2540},{"s":"hL","x":700,"y":2565},{"s":"hL","x":720,"y":2540},{"s":"hL","x":745,"y":2500},{"s":"hL","x":790,"y":2500},
{"s":"hM","x":535,"y":2695},{"s":"hM","x":560,"y":2740},{"s":"hM","x":595,"y":2665},{"s":"hM","x":620,"y":2620},{"s":"hM","x":630,"y":2603},{"s":"hM","x":640,"y":2620},{"s":"hM","x":665,"y":2690},{"s":"hM","x":695,"y":2752},{"s":"hM","x":725,"y":2715},{"s":"hM","x":750,"y":2685},{"s":"hM","x":790,"y":2690},
{"s":"hK","x":912,"y":2505},{"s":"hK","x":932,"y":2558},{"s":"hK","x":955,"y":2490},{"s":"hK","x":985,"y":2440},{"s":"hK","x":1000,"y":2418},{"s":"hK","x":1015,"y":2470},{"s":"hK","x":1035,"y":2550},{"s":"hK","x":1065,"y":2565},{"s":"hK","x":1090,"y":2530},{"s":"hK","x":1105,"y":2500},{"s":"hK","x":1160,"y":2505},
{"s":"hJ","x":912,"y":2700},{"s":"hJ","x":935,"y":2750},{"s":"hJ","x":960,"y":2680},{"s":"hJ","x":985,"y":2610},{"s":"hJ","x":1000,"y":2595},{"s":"hJ","x":1010,"y":2620},{"s":"hJ","x":1025,"y":2700},{"s":"hJ","x":1045,"y":2755},{"s":"hJ","x":1070,"y":2755},{"s":"hJ","x":1090,"y":2700},{"s":"hJ","x":1105,"y":2685},{"s":"hJ","x":1160,"y":2695},
{"s":"hB","x":1265,"y":1762},{"s":"hB","x":1300,"y":1770},{"s":"hB","x":1345,"y":1765},{"s":"hB","x":1385,"y":1755},{"s":"hB","x":1425,"y":1755},{"s":"hB","x":1460,"y":1770},{"s":"hB","x":1490,"y":1765},{"s":"hB","x":1532,"y":1765},
{"s":"hE","x":1645,"y":1772},{"s":"hE","x":1672,"y":1792},{"s":"hE","x":1700,"y":1745},{"s":"hE","x":1725,"y":1715},{"s":"hE","x":1735,"y":1702},{"s":"hE","x":1760,"y":1770},{"s":"hE","x":1790,"y":1808},{"s":"hE","x":1815,"y":1808},{"s":"hE","x":1835,"y":1760},{"s":"hE","x":1865,"y":1760},{"s":"hE","x":1907,"y":1765},
{"s":"hC","x":1283,"y":1962},{"s":"hC","x":1320,"y":1945},{"s":"hC","x":1365,"y":1925},{"s":"hC","x":1400,"y":1955},{"s":"hC","x":1440,"y":1965},{"s":"hC","x":1480,"y":1945},{"s":"hC","x":1532,"y":1950},
{"s":"hG","x":1647,"y":1955},{"s":"hG","x":1665,"y":1990},{"s":"hG","x":1695,"y":1935},{"s":"hG","x":1715,"y":1910},{"s":"hG","x":1730,"y":1862},{"s":"hG","x":1745,"y":1915},{"s":"hG","x":1770,"y":2000},{"s":"hG","x":1805,"y":2012},{"s":"hG","x":1825,"y":1960},{"s":"hG","x":1850,"y":1945},{"s":"hG","x":1907,"y":1942},
{"s":"hF","x":1255,"y":2150},{"s":"hF","x":1275,"y":2165},{"s":"hF","x":1300,"y":2130},{"s":"hF","x":1325,"y":2100},{"s":"hF","x":1340,"y":2060},{"s":"hF","x":1355,"y":2095},{"s":"hF","x":1385,"y":2170},{"s":"hF","x":1415,"y":2185},{"s":"hF","x":1440,"y":2140},{"s":"hF","x":1490,"y":2125},{"s":"hF","x":1535,"y":2130},
{"s":"hH","x":1270,"y":2320},{"s":"hH","x":1295,"y":2375},{"s":"hH","x":1320,"y":2310},{"s":"hH","x":1345,"y":2260},{"s":"hH","x":1360,"y":2210},{"s":"hH","x":1370,"y":2240},{"s":"hH","x":1390,"y":2340},{"s":"hH","x":1420,"y":2385},{"s":"hH","x":1440,"y":2390},{"s":"hH","x":1465,"y":2305},{"s":"hH","x":1530,"y":2315},
{"s":"hI","x":1280,"y":2510},{"s":"hI","x":1300,"y":2590},{"s":"hI","x":1325,"y":2500},{"s":"hI","x":1350,"y":2430},{"s":"hI","x":1365,"y":2378},{"s":"hI","x":1380,"y":2400},{"s":"hI","x":1395,"y":2480},{"s":"hI","x":1415,"y":2580},{"s":"hI","x":1440,"y":2590},{"s":"hI","x":1465,"y":2500},{"s":"hI","x":1475,"y":2495},{"s":"hI","x":1532,"y":2500}
],
"vt":[
{"x":143,"y":108,"y2":130},{"x":310,"y":108,"y2":130},{"x":515,"y":105,"y2":130},{"x":680,"y":105,"y2":130},{"x":143,"y":295,"y2":320},{"x":310,"y":295,"y2":322},{"x":515,"y":295,"y2":320},{"x":680,"y":295,"y2":318},{"x":143,"y":478,"y2":502},{"x":310,"y":478,"y2":502},{"x":875,"y":85,"y2":130},{"x":1040,"y":105,"y2":130},{"x":890,"y":295,"y2":320},{"x":1060,"y":285,"y2":310},{"x":1247,"y":105,"y2":130},{"x":1410,"y":105,"y2":130},{"x":1623,"y":105,"y2":130},{"x":1790,"y":105,"y2":130},{"x":1247,"y":290,"y2":318},{"x":1410,"y":290,"y2":318},{"x":1623,"y":298,"y2":318},{"x":1790,"y":285,"y2":310},{"x":1250,"y":480,"y2":505},{"x":1418,"y":478,"y2":505},{"x":1623,"y":478,"y2":502},{"x":1790,"y":480,"y2":505},{"x":1252,"y":670,"y2":700},{"x":1410,"y":665,"y2":690},{"x":1628,"y":670,"y2":695},{"x":1795,"y":655,"y2":680},{"x":1252,"y":855,"y2":885},{"x":1415,"y":860,"y2":890},{"x":1623,"y":860,"y2":885},{"x":1790,"y":850,"y2":880},{"x":1640,"y":1040,"y2":1065},{"x":1790,"y":1035,"y2":1060},{"x":155,"y":850,"y2":875},{"x":320,"y":840,"y2":865},{"x":150,"y":1035,"y2":1060},{"x":318,"y":1035,"y2":1060},{"x":150,"y":1220,"y2":1245},{"x":318,"y":1215,"y2":1240},{"x":525,"y":1225,"y2":1250},{"x":690,"y":1215,"y2":1240},{"x":897,"y":1225,"y2":1250},{"x":1060,"y":1225,"y2":1250},{"x":1270,"y":1225,"y2":1250},{"x":1435,"y":1220,"y2":1245},
{"x":162,"y":1565,"y2":1590},{"x":357,"y":1565,"y2":1590},{"x":537,"y":1562,"y2":1590},{"x":730,"y":1565,"y2":1590},{"x":908,"y":1565,"y2":1590},{"x":1100,"y":1570,"y2":1595},{"x":1270,"y":1565,"y2":1592},{"x":1458,"y":1570,"y2":1595},{"x":1645,"y":1565,"y2":1590},{"x":1833,"y":1565,"y2":1592},{"x":150,"y":1750,"y2":1775},{"x":342,"y":1755,"y2":1780},{"x":150,"y":1938,"y2":1962},{"x":342,"y":1940,"y2":1965},{"x":162,"y":2125,"y2":2150},{"x":352,"y":2130,"y2":2150},{"x":162,"y":2310,"y2":2335},{"x":355,"y":2310,"y2":2335},{"x":162,"y":2498,"y2":2522},{"x":355,"y":2510,"y2":2540},{"x":162,"y":2685,"y2":2710},{"x":352,"y":2682,"y2":2712},{"x":1265,"y":1750,"y2":1775},{"x":1455,"y":1755,"y2":1778},{"x":1650,"y":1755,"y2":1780},{"x":1838,"y":1745,"y2":1770},{"x":1283,"y":1945,"y2":1970},{"x":1470,"y":1940,"y2":1965},{"x":1647,"y":1940,"y2":1965},{"x":1833,"y":1930,"y2":1965},{"x":1250,"y":2120,"y2":2150},{"x":1440,"y":2120,"y2":2150},{"x":1270,"y":2308,"y2":2335},{"x":1458,"y":2300,"y2":2335},{"x":1280,"y":2500,"y2":2525},{"x":1470,"y":2490,"y2":2520},{"x":537,"y":2495,"y2":2520},{"x":730,"y":2495,"y2":2520},{"x":537,"y":2680,"y2":2705},{"x":730,"y":2665,"y2":2695},{"x":910,"y":2490,"y2":2515},{"x":1098,"y":2495,"y2":2520},{"x":910,"y":2685,"y2":2710},{"x":1098,"y":2680,"y2":2705},
{"x":1615,"y":1228,"y2":1238},{"x":1665,"y":1228,"y2":1238},{"x":1713,"y":1228,"y2":1238},{"x":1762,"y":1228,"y2":1238},{"x":1810,"y":1228,"y2":1238},{"x":1858,"y":1228,"y2":1238},{"x":1615,"y":1293,"y2":1303},{"x":1665,"y":1293,"y2":1303},{"x":1713,"y":1293,"y2":1303},{"x":1762,"y":1293,"y2":1303},{"x":1810,"y":1293,"y2":1303},{"x":1858,"y":1293,"y2":1303},{"x":1907,"y":1293,"y2":1303},
{"x":795,"y":488,"y2":500},{"x":795,"y":757,"y2":783},{"x":796,"y":1762,"y2":1774},{"x":796,"y":2030,"y2":2056},{"x":522,"y":910,"y2":1002},{"x":522,"y":2185,"y2":2275}
],
"hz":[
{"x":1615,"x2":1858,"y":1228},{"x":1615,"x2":1907,"y":1293},{"x":782,"x2":808,"y":770},{"x":783,"x2":809,"y":2043},{"x":522,"x2":530,"y":910},{"x":522,"x2":530,"y":1002},{"x":522,"x2":530,"y":2185},{"x":522,"x2":530,"y":2275}
],
"redP":[
{"x":570,"y":610,"y2":610},{"x":600,"y":580,"y2":640},{"x":630,"y":555,"y2":670},{"x":670,"y":530,"y2":707},{"x":710,"y":515,"y2":742},{"x":750,"y":507,"y2":775},{"x":795,"y":505,"y2":805},{"x":850,"y":513,"y2":840},{"x":900,"y":530,"y2":868},{"x":950,"y":560,"y2":895},{"x":990,"y":595,"y2":915},{"x":1022,"y":632,"y2":932},{"x":1040,"y":670,"y2":902},{"x":1055,"y":715,"y2":845},{"x":1060,"y":740,"y2":805},{"x":1062,"y":770,"y2":770}
],
"redS1":[
{"x":517,"y":2040,"y2":2040},{"x":522,"y":2000,"y2":2085},{"x":535,"y":1945,"y2":2135},{"x":555,"y":1905,"y2":2177},{"x":560,"y":1898,"y2":2185},{"x":585,"y":1865,"y2":2222},{"x":590,"y":1860,"y2":2230},{"x":620,"y":1835,"y2":2257},{"x":625,"y":1832,"y2":2262},{"x":670,"y":1812,"y2":2200},{"x":730,"y":1800,"y2":2117},{"x":790,"y":1798,"y2":2035},{"x":840,"y":1808,"y2":1966},{"x":880,"y":1825,"y2":1911},{"x":895,"y":1838,"y2":1890},{"x":900,"y":1845,"y2":1880},{"x":906,"y":1865,"y2":1865}
],
"redS2":[
{"y":1828,"x":965,"x2":965},{"y":1835,"x":963,"x2":974},{"y":1845,"x":963,"x2":987},{"y":1870,"x":975,"x2":1008},{"y":1910,"x":1000,"x2":1034},{"y":1950,"x":1025,"x2":1052},{"y":2000,"x":1045,"x2":1066},{"y":2060,"x":1055,"x2":1075},{"y":2110,"x":1055,"x2":1068},{"y":2160,"x":1045,"x2":1053},{"y":2190,"x":1034,"x2":1038},{"y":2210,"x":1025,"x2":1025}
],
"balls":[{"x":794.5,"y":771},{"x":796,"y":2043}],
"big":[
{"x":67,"y":47,"t":"S"},{"x":67,"y":94,"t":"C"},{"x":67,"y":140,"t":"H"},{"x":67,"y":187,"t":"Q"},{"x":67,"y":235,"t":"C"},{"x":67,"y":283,"t":"C"},{"x":67,"y":330,"t":"M"},{"x":67,"y":420,"t":"W"},{"x":67,"y":467,"t":"V"},{"x":67,"y":513,"t":"T"},
{"x":440,"y":47,"t":"F"},{"x":440,"y":94,"t":"R"},{"x":440,"y":140,"t":"B"},{"x":440,"y":235,"t":"R"},{"x":440,"y":283,"t":"E"},{"x":440,"y":330,"t":"S"},
{"x":812,"y":47,"t":"B"},{"x":812,"y":94,"t":"I"},{"x":812,"y":140,"t":"L"},{"x":812,"y":187,"t":"L"},{"x":812,"y":235,"t":"W"},{"x":812,"y":283,"t":"H"},{"x":812,"y":330,"t":"Y"},
{"x":1185,"y":47,"t":"T"},{"x":1185,"y":94,"t":"I"},{"x":1185,"y":140,"t":"X"},{"x":1185,"y":187,"t":"I"},{"x":1185,"y":235,"t":"Y"},{"x":1185,"y":283,"t":"A"},{"x":1185,"y":330,"t":"K"},
{"x":1558,"y":47,"t":"H"},{"x":1558,"y":94,"t":"I"},{"x":1558,"y":140,"t":"A"},{"x":1558,"y":235,"t":"T"},{"x":1558,"y":283,"t":"L"},{"x":1558,"y":330,"t":"Y"},
{"x":1185,"y":420,"t":"U"},{"x":1185,"y":467,"t":"L"},{"x":1185,"y":515,"t":"N"},{"x":1558,"y":420,"t":"B"},{"x":1558,"y":467,"t":"J"},{"x":1558,"y":515,"t":"T"},
{"x":1185,"y":605,"t":"I"},{"x":1185,"y":653,"t":"N"},{"x":1185,"y":700,"t":"C"},{"x":1185,"y":747,"t":"N"},{"x":1185,"y":793,"t":"C"},{"x":1185,"y":840,"t":"H"},{"x":1185,"y":887,"t":"T"},{"x":1185,"y":933,"t":"O"},
{"x":1558,"y":605,"t":"A"},{"x":1558,"y":653,"t":"A"},{"x":1558,"y":700,"t":"K"},{"x":1558,"y":790,"t":"P"},{"x":1558,"y":840,"t":"S"},{"x":1558,"y":887,"t":"I"},
{"x":1558,"y":980,"t":"M"},{"x":1558,"y":1027,"t":"S"},{"x":1558,"y":1073,"t":"E"},{"x":1558,"y":1120,"t":"Y"},{"x":1558,"y":1165,"t":"*"},
{"x":1185,"y":1165,"t":"L"},{"x":1185,"y":1212,"t":"B"},{"x":1185,"y":1258,"t":"T"},{"x":1185,"y":1305,"t":"B"},
{"x":67,"y":793,"t":"F"},{"x":67,"y":840,"t":"D"},{"x":67,"y":885,"t":"F"},{"x":67,"y":980,"t":"R"},{"x":67,"y":1025,"t":"C"},{"x":67,"y":1072,"t":"B"},{"x":67,"y":1120,"t":"R"},{"x":67,"y":1165,"t":"S"},{"x":67,"y":1212,"t":"H"},{"x":67,"y":1260,"t":"E"},{"x":67,"y":1305,"t":"L"},
{"x":440,"y":1165,"t":"B"},{"x":440,"y":1212,"t":"O"},{"x":440,"y":1260,"t":"S"},{"x":440,"y":1305,"t":"A"},{"x":812,"y":1165,"t":"L"},{"x":812,"y":1212,"t":"S"},{"x":812,"y":1260,"t":"Z"},
{"x":67,"y":1507,"t":"F"},{"x":67,"y":1555,"t":"R"},{"x":67,"y":1600,"t":"B"},{"x":440,"y":1507,"t":"R"},{"x":440,"y":1555,"t":"E"},{"x":440,"y":1600,"t":"S"},{"x":812,"y":1507,"t":"F"},{"x":812,"y":1555,"t":"F"},{"x":812,"y":1600,"t":"C"},
{"x":67,"y":1695,"t":"S"},{"x":67,"y":1740,"t":"C"},{"x":67,"y":1787,"t":"H"},{"x":67,"y":1833,"t":"Q"},{"x":67,"y":1880,"t":"D"},{"x":67,"y":1927,"t":"R"},{"x":67,"y":1973,"t":"L"},{"x":67,"y":2020,"t":"N"},{"x":67,"y":2067,"t":"S"},{"x":67,"y":2112,"t":"S"},{"x":67,"y":2160,"t":"P"},{"x":67,"y":2207,"t":"A"},{"x":67,"y":2253,"t":"S"},{"x":67,"y":2300,"t":"J"},{"x":67,"y":2347,"t":"G"},
{"x":67,"y":2440,"t":"F"},{"x":67,"y":2485,"t":"D"},{"x":67,"y":2532,"t":"F"},{"x":67,"y":2625,"t":"S"},{"x":67,"y":2672,"t":"U"},{"x":67,"y":2718,"t":"R"},
{"x":440,"y":2440,"t":"L"},{"x":440,"y":2485,"t":"B"},{"x":440,"y":2532,"t":"T"},{"x":440,"y":2578,"t":"B"},{"x":440,"y":2625,"t":"B"},{"x":440,"y":2672,"t":"O"},{"x":440,"y":2718,"t":"S"},{"x":440,"y":2762,"t":"A"},
{"x":812,"y":2440,"t":"L"},{"x":812,"y":2485,"t":"S"},{"x":812,"y":2532,"t":"Z"},{"x":812,"y":2625,"t":"M"},{"x":812,"y":2672,"t":"B"},{"x":812,"y":2718,"t":"A"},{"x":812,"y":2762,"t":"R"},
{"x":1185,"y":1507,"t":"T"},{"x":1185,"y":1553,"t":"I"},{"x":1185,"y":1600,"t":"X"},{"x":1185,"y":1647,"t":"I"},{"x":1185,"y":1693,"t":"Y"},{"x":1185,"y":1740,"t":"A"},{"x":1185,"y":1787,"t":"K"},
{"x":1558,"y":1507,"t":"U"},{"x":1558,"y":1555,"t":"L"},{"x":1558,"y":1602,"t":"N"},{"x":1558,"y":1695,"t":"A"},{"x":1558,"y":1742,"t":"A"},{"x":1558,"y":1788,"t":"K"},{"x":1558,"y":1880,"t":"L"},{"x":1558,"y":1927,"t":"S"},{"x":1558,"y":1975,"t":"A"},
{"x":1185,"y":1878,"t":"M"},{"x":1185,"y":1927,"t":"D"},{"x":1185,"y":1973,"t":"J"},{"x":1185,"y":2067,"t":"E"},{"x":1185,"y":2113,"t":"N"},{"x":1185,"y":2160,"t":"H"},
{"x":1185,"y":2252,"t":"C"},{"x":1185,"y":2298,"t":"H"},{"x":1185,"y":2345,"t":"T"},{"x":1185,"y":2392,"t":"O"},{"x":1185,"y":2440,"t":"R"},{"x":1185,"y":2485,"t":"E"},{"x":1185,"y":2532,"t":"R"}
],
"small":[
{"x":113,"y":45,"t":"U"},{"x":485,"y":45,"t":"V"},{"x":858,"y":45,"t":"A"},{"x":113,"y":230,"t":"T"},{"x":485,"y":230,"t":"W"},{"x":858,"y":230,"t":"X"},{"x":113,"y":418,"t":"S"},{"x":1230,"y":45,"t":"B"},{"x":1603,"y":45,"t":"D"},{"x":1230,"y":230,"t":"C"},{"x":1603,"y":230,"t":"E"},{"x":1230,"y":418,"t":"F"},{"x":1603,"y":418,"t":"H"},{"x":1230,"y":605,"t":"G"},{"x":1603,"y":605,"t":"I"},{"x":1230,"y":790,"t":"J"},{"x":1603,"y":790,"t":"K"},{"x":1603,"y":978,"t":"L"},{"x":111,"y":789,"t":"R"},{"x":113,"y":975,"t":"Q"},{"x":113,"y":1162,"t":"P"},{"x":485,"y":1162,"t":"O"},{"x":858,"y":1162,"t":"M"},{"x":1230,"y":1162,"t":"N"},
{"x":113,"y":1505,"t":"T"},{"x":485,"y":1505,"t":"V"},{"x":857,"y":1505,"t":"U"},{"x":110,"y":1690,"t":"S"},{"x":112,"y":1877,"t":"R"},{"x":112,"y":2065,"t":"Q"},{"x":112,"y":2250,"t":"P"},{"x":110,"y":2435,"t":"O"},{"x":110,"y":2622,"t":"N"},{"x":485,"y":2437,"t":"L"},{"x":485,"y":2622,"t":"M"},{"x":857,"y":2437,"t":"K"},{"x":857,"y":2622,"t":"J"},{"x":1230,"y":1505,"t":"A"},{"x":1602,"y":1505,"t":"D"},{"x":1230,"y":1690,"t":"B"},{"x":1602,"y":1690,"t":"E"},{"x":1230,"y":1877,"t":"C"},{"x":1602,"y":1877,"t":"G"},{"x":1230,"y":2063,"t":"F"},{"x":1230,"y":2250,"t":"H"},{"x":1230,"y":2435,"t":"I"},
{"x":743,"y":715,"t":"U"},{"x":752,"y":702,"t":"V"},{"x":772,"y":698,"t":"W"},{"x":783,"y":715,"t":"X"},{"x":808,"y":708,"t":"A"},{"x":822,"y":698,"t":"B"},{"x":833,"y":708,"t":"C"},{"x":850,"y":720,"t":"D"},{"x":857,"y":715,"t":"E"},{"x":848,"y":725,"t":"F"},{"x":842,"y":735,"t":"G"},{"x":853,"y":725,"t":"H"},{"x":882,"y":730,"t":"I"},{"x":870,"y":763,"t":"J"},{"x":860,"y":778,"t":"K"},{"x":855,"y":838,"t":"L"},{"x":805,"y":862,"t":"M"},{"x":798,"y":852,"t":"N"},{"x":798,"y":852,"t":"O"},{"x":752,"y":845,"t":"P"},{"x":727,"y":805,"t":"Q"},{"x":728,"y":765,"t":"R"},{"x":747,"y":735,"t":"S"},{"x":747,"y":735,"t":"T"},
{"x":770,"y":1960,"t":"V"},{"x":748,"y":1972,"t":"T"},{"x":738,"y":1980,"t":"S"},{"x":760,"y":1983,"t":"U"},{"x":725,"y":1988,"t":"R"},{"x":735,"y":1998,"t":"Q"},{"x":733,"y":2010,"t":"P"},{"x":722,"y":2032,"t":"O"},{"x":825,"y":1968,"t":"A"},{"x":832,"y":1973,"t":"B"},{"x":848,"y":1995,"t":"C"},{"x":860,"y":1990,"t":"D"},{"x":885,"y":2002,"t":"E"},{"x":868,"y":2015,"t":"F"},{"x":880,"y":2028,"t":"G"},{"x":875,"y":2038,"t":"H"},{"x":842,"y":2115,"t":"I"},{"x":822,"y":2145,"t":"J"},{"x":797,"y":2130,"t":"K"},{"x":800,"y":2132,"t":"L"},{"x":795,"y":2130,"t":"M"},{"x":797,"y":2132,"t":"N"}
],
"lab":[{"x":1615,"y":1260,"t":"0"},{"x":1615,"y":1325,"t":"0"},{"x":1870,"y":1260,"t":"25s"},{"x":1917,"y":1325,"t":"60s"},{"x":1745,"y":1355,"t":"STF"}],
"huge":[{"x":1003,"y":1047,"t":"P"},{"x":1005,"y":2302,"t":"S"}],
"subH":[{"x":1060,"y":2337,"t":"H"}],
"rot":[{"x":497,"y":940,"t":"93148d"},{"x":497,"y":2207,"t":"186297d"}],
"ttl":[{"x":900,"y":1404,"t":"310/8/95/28/1.931E19"}],
"wdot":[{"x":867,"y":666}],
"bdot":[{"x":692,"y":912}]
},
"encoding":{
"x":{"field":"x","type":"quantitative","axis":null,"scale":{"domain":[0,2007],"nice":false,"zero":false}},
"y":{"field":"y","type":"quantitative","axis":null,"scale":{"domain":[0,2781],"nice":false,"zero":false,"reverse":true}}
},
"layer":[
{"data":{"name":"redP"},"mark":{"type":"area","interpolate":"monotone","color":"#ff0000","stroke":"#000","strokeWidth":0.8},"encoding":{"y2":{"field":"y2"}}},
{"data":{"name":"redS1"},"mark":{"type":"area","interpolate":"monotone","color":"#ff0000","stroke":"#000","strokeWidth":0.8},"encoding":{"y2":{"field":"y2"}}},
{"data":{"name":"redS2"},"mark":{"type":"area","orient":"horizontal","interpolate":"monotone","color":"#ff0000","stroke":"#000","strokeWidth":0.8},"encoding":{"x2":{"field":"x2"}}},
{"data":{"name":"balls"},"mark":{"type":"point","shape":"circle","size":34596,"filled":false,"stroke":"#000","strokeWidth":1,"opacity":1}},
{"data":{"name":"wdot"},"mark":{"type":"circle","size":121,"fill":"#fff","stroke":"#000","strokeWidth":1,"opacity":1}},
{"data":{"name":"bdot"},"mark":{"type":"circle","size":135,"fill":"#000","opacity":1}},
{"data":{"name":"das"},"mark":{"type":"line","interpolate":"monotone","stroke":"#000","strokeWidth":0.9,"strokeDash":[4,3]},"encoding":{"detail":{"field":"s"}}},
{"data":{"name":"sol"},"transform":[{"filter":"datum.s!='stf'"}],"mark":{"type":"line","interpolate":"monotone","stroke":"#000","strokeWidth":1},"encoding":{"detail":{"field":"s"}}},
{"data":{"name":"sol"},"transform":[{"filter":"datum.s=='stf'"}],"mark":{"type":"line","stroke":"#000","strokeWidth":1},"encoding":{"detail":{"field":"s"}}},
{"data":{"name":"vt"},"mark":{"type":"rule","stroke":"#000","strokeWidth":1},"encoding":{"y2":{"field":"y2"}}},
{"data":{"name":"hz"},"mark":{"type":"rule","stroke":"#000","strokeWidth":1},"encoding":{"x2":{"field":"x2"}}},
{"data":{"name":"big"},"mark":{"type":"text","font":"Liberation Serif","fontSize":16.5,"fill":"#222","align":"center","baseline":"middle"},"encoding":{"text":{"field":"t"}}},
{"data":{"name":"small"},"mark":{"type":"text","font":"Liberation Serif","fontSize":13,"fill":"#222","align":"center","baseline":"middle"},"encoding":{"text":{"field":"t"}}},
{"data":{"name":"lab"},"mark":{"type":"text","font":"Liberation Mono","fontSize":15,"fill":"#333","align":"center","baseline":"middle"},"encoding":{"text":{"field":"t"}}},
{"data":{"name":"huge"},"mark":{"type":"text","font":"Liberation Serif","fontSize":33,"fill":"#000","align":"center","baseline":"middle"},"encoding":{"text":{"field":"t"}}},
{"data":{"name":"subH"},"mark":{"type":"text","font":"Liberation Serif","fontSize":19,"fill":"#222","align":"center","baseline":"middle"},"encoding":{"text":{"field":"t"}}},
{"data":{"name":"rot"},"mark":{"type":"text","font":"Liberation Mono","fontSize":16,"fill":"#333","align":"center","baseline":"middle","angle":270},"encoding":{"text":{"field":"t"}}},
{"data":{"name":"ttl"},"mark":{"type":"text","font":"Liberation Serif","fontSize":22.6,"fill":"#000","align":"center","baseline":"alphabetic"},"encoding":{"text":{"field":"t"}}}
]}
